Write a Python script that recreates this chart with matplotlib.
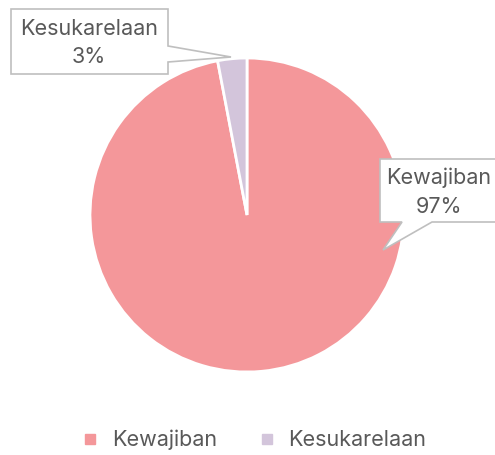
import matplotlib
matplotlib.use("Agg")
import matplotlib.pyplot as plt
from matplotlib.patches import Polygon
from matplotlib.lines import Line2D

labels = ["Kewajiban", "Kesukarelaan"]
values = [97, 3]
colors = ["#F4979A", "#D3C5DB"]

W, H = 495, 455
fig = plt.figure(figsize=(W / 100, H / 100), dpi=100)
plt.rcParams['font.family'] = ['Inter', 'DejaVu Sans']

# pie axes: center (247,215) px, radius 157 px
r = 157
cx, cy = 247, 215
ax = fig.add_axes([(cx - r) / W, 1 - (cy + r) / H, 2 * r / W, 2 * r / H])
ax.pie(values, colors=colors, startangle=90, counterclock=False,
       wedgeprops=dict(edgecolor="white", linewidth=2))
ax.set_aspect('equal')
ax.set_xlim(-1, 1)
ax.set_ylim(-1, 1)

def px(x, y):
    return (x / W, 1 - y / H)

def callout(pts, text, tx, ty):
    poly = Polygon([px(*p) for p in pts], closed=True, transform=fig.transFigure,
                   facecolor="white", edgecolor="#BFBFBF", linewidth=1.2, zorder=5)
    fig.patches.append(poly)
    fig.text(*px(tx, ty), text, ha="center", va="center", fontsize=15.5,
             color="#595959", linespacing=1.55, zorder=6)

# Kesukarelaan callout
callout([(11, 9), (168, 9), (168, 46), (231, 57), (168, 62), (168, 74), (11, 74)],
        f"{labels[1]}\n{values[1]}%", 89, 43)
# Kewajiban callout
callout([(380, 159), (497, 159), (497, 222), (432, 222), (383, 250), (402, 222), (380, 222)],
        f"{labels[0]}\n{values[0]}%", 439, 192)

handles = [Line2D([0], [0], marker='s', linestyle='', markersize=7,
                  markerfacecolor=c, markeredgecolor=c) for c in colors]
fig.legend(handles, labels, loc='center', bbox_to_anchor=(0.5, 1 - 440 / H),
           ncol=2, frameon=False, fontsize=15.5, labelcolor="#595959",
           handletextpad=0.0, columnspacing=1.3)

fig.savefig("out.png", dpi=100)
